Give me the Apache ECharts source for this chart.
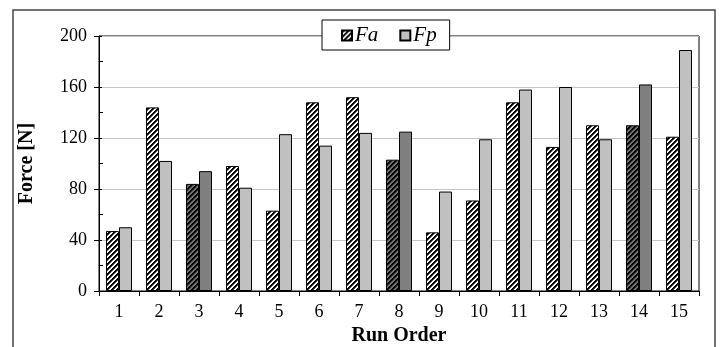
<!DOCTYPE html>
<html>
<head>
<meta charset="utf-8">
<script src="https://cdn.jsdelivr.net/npm/echarts@6/dist/echarts.min.js"></script>
<style>
  html, body { margin: 0; padding: 0; background: #fff; }
  #chart { width: 723px; height: 347px; }
</style>
</head>
<body>
<div id="chart"></div>
<script>
// Run order categories and measured forces (N)
const runOrder = ['1','2','3','4','5','6','7','8','9','10','11','12','13','14','15'];
const forceFa = [47, 144, 84, 98, 63, 148, 152, 103, 46, 71, 148, 113, 130, 130, 121];
const forceFp = [50, 102, 94, 81, 123, 114, 124, 125, 78, 119, 158, 160, 119, 162, 189];
// Runs drawn in the darker shade
const darkRuns = ['3', '8', '14'];
const yTicks = [0, 40, 80, 120, 160, 200];

// Diagonal hatch tile used to fill the Fa bars
function hatch(ink, mid, paper) {
  const n = 5;
  const c = document.createElement('canvas');
  c.width = n; c.height = n;
  const ctx = c.getContext('2d');
  for (let x = 0; x < n; x++) {
    for (let y = 0; y < n; y++) {
      const k = (x + y) % n;
      ctx.fillStyle = k < 2 ? ink : (k === 2 ? mid : paper);
      ctx.fillRect(x, y, 1, 1);
    }
  }
  return { image: c, repeat: 'repeat' };
}

const faLight = hatch('#000', '#555', '#fff');
const faDark = hatch('#000', '#333', '#707070');
const fpLight = '#c0c0c0';
const fpDark = '#7f7f7f';

const serif = '"Liberation Serif", "Times New Roman", serif';

function seriesData(values, darkColor) {
  return values.map((v, i) => darkRuns.includes(runOrder[i])
    ? { value: v, itemStyle: { color: darkColor } }
    : v);
}

const chart = echarts.init(document.getElementById('chart'), null, { renderer: 'canvas' });

chart.setOption({
  animation: false,
  backgroundColor: '#fff',
  grid: {
    left: 99, right: 24, top: 36, bottom: 56,
    outerBoundsMode: 'none',
    containLabel: false,
    show: true, borderColor: '#000', borderWidth: 1, backgroundColor: 'transparent'
  },
  legend: {
    data: ['Fa', 'Fp'],
    left: 322, top: 20,
    backgroundColor: '#fff',
    borderColor: '#000', borderWidth: 1,
    padding: [5, 13, 4, 19],
    itemGap: 21,
    itemWidth: 10, itemHeight: 10,
    icon: 'rect',
    textStyle: { fontFamily: serif, fontStyle: 'italic', fontSize: 21, color: '#000', padding: [0, 0, 0, -2] }
  },
  xAxis: {
    type: 'category',
    data: runOrder,
    name: 'Run Order',
    nameLocation: 'middle',
    nameGap: 34,
    nameTextStyle: { fontFamily: serif, fontWeight: 'bold', fontSize: 20, color: '#000' },
    axisLine: { lineStyle: { color: '#000', width: 1 } },
    axisTick: { show: true, length: 5, lineStyle: { color: '#000' } },
    axisLabel: { fontFamily: serif, fontSize: 18, color: '#000', margin: 12 }
  },
  yAxis: [
    {
      type: 'value',
      min: yTicks[0], max: yTicks[yTicks.length - 1], interval: 40,
      name: 'Force [N]',
      nameLocation: 'middle',
      nameGap: 62,
      nameRotate: 90,
      nameTextStyle: { fontFamily: serif, fontWeight: 'bold', fontSize: 20, color: '#000' },
      axisLine: { show: true, lineStyle: { color: '#000', width: 1 } },
      axisTick: { show: true, length: 5, lineStyle: { color: '#000' } },
      axisLabel: { fontFamily: serif, fontSize: 18, color: '#000', margin: 12 },
      splitLine: { show: true, lineStyle: { color: '#c4c4c4', width: 1 } }
    },
    {
      // inner tick marks, including the minor ones halfway between labels
      type: 'value',
      position: 'left',
      min: yTicks[0], max: yTicks[yTicks.length - 1], interval: 40,
      axisLine: { show: false },
      axisTick: { show: true, inside: true, length: 3, lineStyle: { color: '#000' } },
      minorTick: { show: true, splitNumber: 2, length: 4, lineStyle: { color: '#000' } },
      axisLabel: { show: false },
      splitLine: { show: false }
    }
  ],
  series: [
    {
      name: 'Fa',
      type: 'bar',
      data: seriesData(forceFa, faDark),
      barWidth: 13,
      barGap: '0%',
      itemStyle: { color: faLight, borderColor: '#000', borderWidth: 1 }
    },
    {
      name: 'Fp',
      type: 'bar',
      data: seriesData(forceFp, fpDark),
      barWidth: 13,
      barGap: '0%',
      itemStyle: { color: fpLight, borderColor: '#000', borderWidth: 1 }
    }
  ],
  graphic: [
    // outer frame around the figure
    { type: 'polyline', silent: true, z: 100,
      shape: { points: [[13, 347], [13, 10], [715, 10], [715, 347]] },
      style: { fill: null, stroke: '#444', lineWidth: 1.5 } }
  ]
});
</script>
</body>
</html>
